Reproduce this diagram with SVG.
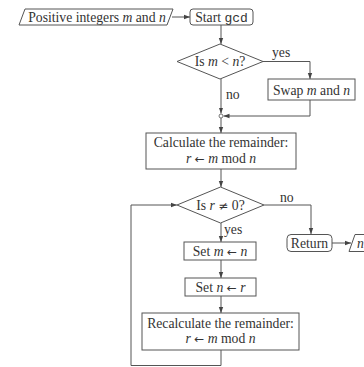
<svg xmlns="http://www.w3.org/2000/svg" width="364" height="367" viewBox="0 0 364 367">
<defs>
<marker id="ah" viewBox="0 0 6 6" refX="6" refY="3" markerWidth="6" markerHeight="6" orient="auto" markerUnits="userSpaceOnUse">
<path d="M0,0.8 L6,3 L0,5.2 Z" fill="#444"/>
</marker>
<style>
.s{fill:#fff;stroke:#555;stroke-width:1}
.c{fill:none;stroke:#555;stroke-width:1}
text{font-family:"Liberation Serif","Times New Roman",serif;font-size:13.7px;fill:#333}
.m{text-anchor:middle}
.i{font-style:italic}
.a{font-family:"DejaVu Sans",sans-serif;font-size:12px}
.mono{font-family:"Liberation Mono","DejaVu Sans Mono",monospace;font-size:13px}
</style>
</defs>
<rect width="364" height="367" fill="#fff"/>
<g id="connectors">
<line class="c" x1="172" y1="17" x2="190" y2="17" marker-end="url(#ah)"/>
<line class="c" x1="221" y1="25" x2="221" y2="44" marker-end="url(#ah)"/>
<polyline class="c" points="263,61.5 310,61.5 310,79" marker-end="url(#ah)"/>
<polyline class="c" points="310,100 310,116 223.5,116" marker-end="url(#ah)"/>
<line class="c" x1="221" y1="79" x2="221" y2="113.5" marker-end="url(#ah)"/>
<circle cx="221" cy="116" r="2" fill="#fff" stroke="#555" stroke-width="0.8"/>
<line class="c" x1="221" y1="118" x2="221" y2="133" marker-end="url(#ah)"/>
<line class="c" x1="221" y1="169" x2="221" y2="187" marker-end="url(#ah)"/>
<polyline class="c" points="264,205 311,205 311,234" marker-end="url(#ah)"/>
<line class="c" x1="332" y1="243" x2="351" y2="243" marker-end="url(#ah)"/>
<line class="c" x1="221" y1="223" x2="221" y2="242" marker-end="url(#ah)"/>
<line class="c" x1="221" y1="260" x2="221" y2="278" marker-end="url(#ah)"/>
<line class="c" x1="221" y1="296" x2="221" y2="313" marker-end="url(#ah)"/>
<polyline class="c" points="221,350 221,365.5 131,365.5 131,205 177,205" marker-end="url(#ah)"/>
</g>
<g id="input">
<polygon class="s" points="25,9 173,9 167,25 19,25"/>
<text class="m" x="97" y="21.5">Positive integers <tspan class="i">m</tspan> and <tspan class="i">n</tspan></text>
</g>
<g id="start">
<rect class="s" x="190" y="9" width="63" height="16" rx="3"/>
<text class="m" x="221.5" y="21.5">Start <tspan class="mono">gcd</tspan></text>
</g>
<g id="dec1">
<polygon class="s" points="177,61.5 220,44 263,61.5 220,79"/>
<text class="m" x="220" y="66">Is <tspan class="i">m</tspan> &lt; <tspan class="i">n</tspan>?</text>
<text x="272" y="57">yes</text>
<text x="226" y="99">no</text>
</g>
<g id="swap">
<rect class="s" x="268" y="79" width="87" height="21"/>
<text class="m" x="311.5" y="94.5">Swap <tspan class="i">m</tspan> and <tspan class="i">n</tspan></text>
</g>
<g id="calc">
<rect class="s" x="146" y="133" width="150" height="36"/>
<text class="m" x="221" y="147">Calculate the remainder:</text>
<text class="m" x="221" y="163"><tspan class="i">r</tspan> <tspan class="a">←</tspan> <tspan class="i">m</tspan> mod <tspan class="i">n</tspan></text>
</g>
<g id="dec2">
<polygon class="s" points="177,205 220.5,187 264,205 220.5,223"/>
<text class="m" x="220.5" y="209.5">Is <tspan class="i">r</tspan> <tspan class="a">≠</tspan> 0?</text>
<text x="280" y="202">no</text>
<text x="224" y="234">yes</text>
</g>
<g id="return">
<rect class="s" x="287" y="234.5" width="45" height="17" rx="4"/>
<text class="m" x="309.5" y="247.5">Return</text>
</g>
<g id="output">
<polygon class="s" points="355,234.5 375,234.5 369,251.5 349,251.5"/>
<text x="357" y="247.5" class="i">n</text>
</g>
<g id="setm">
<rect class="s" x="184" y="242" width="72" height="18"/>
<text class="m" x="220" y="255.5">Set <tspan class="i">m</tspan> <tspan class="a">←</tspan> <tspan class="i">n</tspan></text>
</g>
<g id="setn">
<rect class="s" x="185" y="278" width="71" height="18"/>
<text class="m" x="220.5" y="291.5">Set <tspan class="i">n</tspan> <tspan class="a">←</tspan> <tspan class="i">r</tspan></text>
</g>
<g id="recalc">
<rect class="s" x="142" y="313" width="157" height="37"/>
<text class="m" x="220.5" y="328">Recalculate the remainder:</text>
<text class="m" x="220.5" y="343"><tspan class="i">r</tspan> <tspan class="a">←</tspan> <tspan class="i">m</tspan> mod <tspan class="i">n</tspan></text>
</g>
</svg>
